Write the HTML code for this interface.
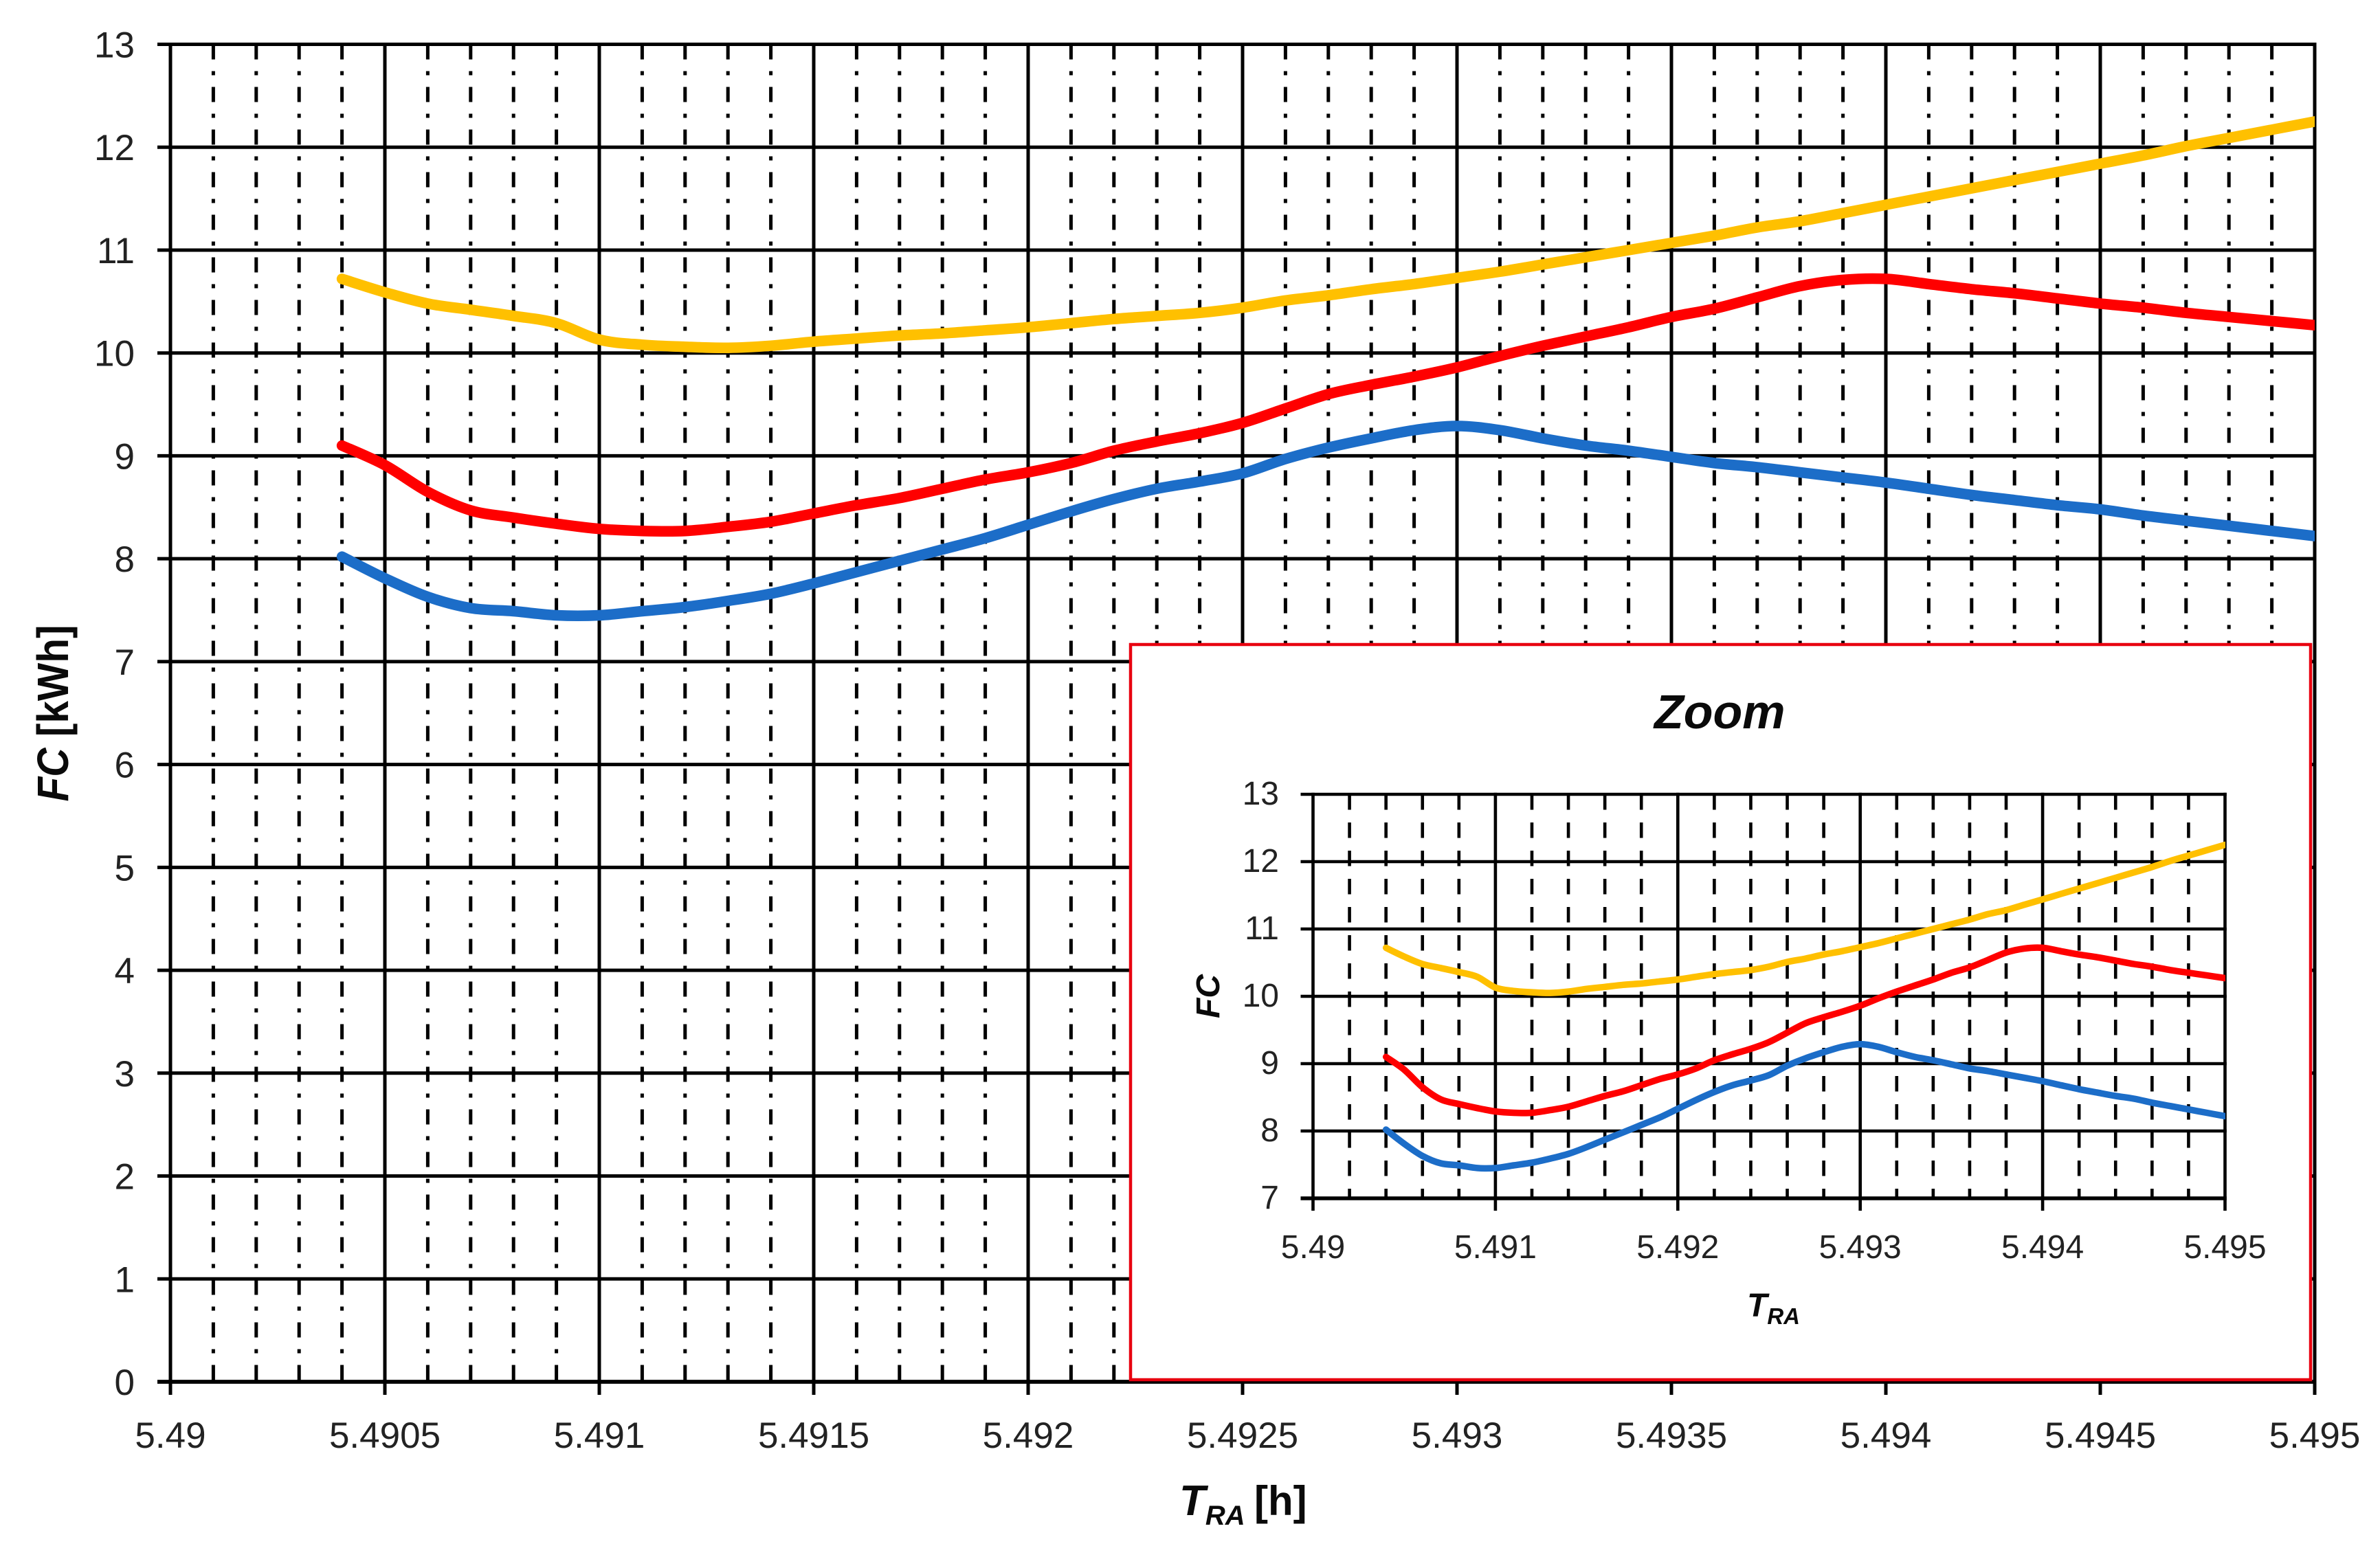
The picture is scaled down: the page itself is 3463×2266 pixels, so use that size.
<!DOCTYPE html>
<html lang="en">
<head>
<meta charset="utf-8">
<title>FC vs TRA chart with zoom inset</title>
<style>
  html, body { margin: 0; padding: 0; background: #ffffff; }
  svg { display: block; }
  text { font-family: "Liberation Sans", sans-serif; fill: #222222; }
  .axis-title { font-weight: bold; fill: #0a0a0a; }
</style>
</head>
<body>
<svg id="chart" xmlns="http://www.w3.org/2000/svg" width="3463" height="2266" viewBox="0 0 3463 2266">
  <defs>
    <clipPath id="main-clip"><rect x="200" y="0" width="3168" height="2266"/></clipPath>
    <clipPath id="inset-clip"><rect x="1880" y="1100" width="1358" height="700"/></clipPath>
  </defs>
  <rect x="0" y="0" width="3463" height="2266" fill="#ffffff"/>
  <g id="main-grid"></g>
  <g id="main-labels"></g>
  <g id="main-series" clip-path="url(#main-clip)"></g>
  <text class="axis-title" transform="translate(99 1038) rotate(-90)" text-anchor="middle" font-size="64" textLength="257" lengthAdjust="spacingAndGlyphs"><tspan font-style="italic">FC</tspan> [kWh]</text>
  <text class="axis-title" x="1716" y="2205" font-size="62"><tspan font-style="italic">T</tspan><tspan font-style="italic" font-size="40" dy="14">RA</tspan><tspan x="1825" dy="-14" font-size="60">[h]</tspan></text>

  <rect x="1645" y="938" width="1717" height="1070" fill="#ffffff" stroke="#e8000f" stroke-width="4.5"/>
  <text class="axis-title" x="2407" y="1060" font-size="70" font-style="italic">Zoom</text>
  <g id="inset-grid"></g>
  <g id="inset-labels"></g>
  <g id="inset-series" clip-path="url(#inset-clip)"></g>
  <text class="axis-title" transform="translate(1774 1450) rotate(-90)" text-anchor="middle" font-size="48" font-style="italic">FC</text>
  <text class="axis-title" x="2542" y="1916" font-size="48" font-style="italic">T<tspan font-size="33" dy="11">RA</tspan></text>
</svg>
<script>
const trValues = [
  5.4904, 5.4905, 5.4906, 5.4907, 5.4908, 5.4909,
  5.4910, 5.4911, 5.4912, 5.4913, 5.4914, 5.4915, 5.4916, 5.4917, 5.4918, 5.4919,
  5.4920, 5.4921, 5.4922, 5.4923, 5.4924, 5.4925, 5.4926, 5.4927, 5.4928, 5.4929,
  5.4930, 5.4931, 5.4932, 5.4933, 5.4934, 5.4935, 5.4936, 5.4937, 5.4938, 5.4939,
  5.4940, 5.4941, 5.4942, 5.4943, 5.4944, 5.4945, 5.4946, 5.4947, 5.4948, 5.4949,
  5.4950
];
const yellowSeries = [
  10.72, 10.59, 10.48, 10.42, 10.36, 10.29,
  10.13, 10.08, 10.06, 10.05, 10.07, 10.11, 10.14, 10.17, 10.19, 10.22,
  10.25, 10.29, 10.33, 10.36, 10.39, 10.44, 10.51, 10.56, 10.62, 10.67,
  10.73, 10.79, 10.86, 10.93, 11.00, 11.07, 11.14, 11.22, 11.28, 11.36,
  11.44, 11.52, 11.60, 11.68, 11.76, 11.84, 11.92, 12.01, 12.09, 12.17,
  12.25
];
const redSeries = [
  9.10, 8.91, 8.65, 8.47, 8.40, 8.34,
  8.29, 8.27, 8.27, 8.31, 8.36, 8.44, 8.52, 8.59, 8.68, 8.77,
  8.84, 8.93, 9.05, 9.14, 9.22, 9.32, 9.46, 9.60, 9.69, 9.77,
  9.86, 9.97, 10.07, 10.16, 10.25, 10.35, 10.43, 10.54, 10.65, 10.71,
  10.72, 10.67, 10.62, 10.58, 10.53, 10.48, 10.44, 10.39, 10.35, 10.31,
  10.27
];
const blueSeries = [
  8.02, 7.81, 7.63, 7.52, 7.49, 7.45,
  7.45, 7.49, 7.53, 7.59, 7.66, 7.76, 7.87, 7.98, 8.09, 8.20,
  8.33, 8.46, 8.58, 8.68, 8.75, 8.83, 8.97, 9.08, 9.17, 9.25,
  9.29, 9.25, 9.17, 9.10, 9.05, 8.99, 8.93, 8.89, 8.84, 8.79,
  8.74, 8.68, 8.62, 8.57, 8.52, 8.48, 8.42, 8.37, 8.32, 8.27,
  8.22
];
const mainXTickLabels = ['5.49', '5.4905', '5.491', '5.4915', '5.492', '5.4925', '5.493', '5.4935', '5.494', '5.4945', '5.495'];
const mainYTickLabels = ['0', '1', '2', '3', '4', '5', '6', '7', '8', '9', '10', '11', '12', '13'];
const insetXTickLabels = ['5.49', '5.491', '5.492', '5.493', '5.494', '5.495'];
const insetYTickLabels = ['7', '8', '9', '10', '11', '12', '13'];

const SVG_NS = 'http://www.w3.org/2000/svg';

function make(tag, attrs, parent) {
  const el = document.createElementNS(SVG_NS, tag);
  for (const k in attrs) el.setAttribute(k, attrs[k]);
  parent.appendChild(el);
  return el;
}
function linearScale(d0, d1, r0, r1) {
  return function (v) { return r0 + (v - d0) * (r1 - r0) / (d1 - d0); };
}
function smoothPath(points) {
  let d = 'M' + points[0][0].toFixed(1) + ' ' + points[0][1].toFixed(1);
  for (let i = 0; i < points.length - 1; i++) {
    const p0 = points[Math.max(i - 1, 0)];
    const p1 = points[i];
    const p2 = points[i + 1];
    const p3 = points[Math.min(i + 2, points.length - 1)];
    const c1x = p1[0] + (p2[0] - p0[0]) / 6;
    const c1y = p1[1] + (p2[1] - p0[1]) / 6;
    const c2x = p2[0] - (p3[0] - p1[0]) / 6;
    const c2y = p2[1] - (p3[1] - p1[1]) / 6;
    d += 'C' + c1x.toFixed(1) + ' ' + c1y.toFixed(1) + ' ' + c2x.toFixed(1) + ' ' + c2y.toFixed(1) + ' ' + p2[0].toFixed(1) + ' ' + p2[1].toFixed(1);
  }
  return d;
}

function drawChart(cfg) {
  const xVals = cfg.xLabels.map(Number);
  const yVals = cfg.yLabels.map(Number);
  const xMin = xVals[0], xMax = xVals[xVals.length - 1];
  const yMin = yVals[0], yMax = yVals[yVals.length - 1];
  const sx = linearScale(xMin, xMax, cfg.left, cfg.right);
  const sy = linearScale(yMin, yMax, cfg.bottom, cfg.top);
  const gridG = document.getElementById(cfg.prefix + '-grid');
  const labelG = document.getElementById(cfg.prefix + '-labels');
  const seriesG = document.getElementById(cfg.prefix + '-series');

  // minor vertical gridlines
  const nMinor = Math.round((xMax - xMin) / cfg.minorStep);
  for (let i = 1; i < nMinor; i++) {
    if (i % cfg.minorPerMajor === 0) continue;
    const x = sx(xMin + i * cfg.minorStep);
    const minor = make('line', { x1: x, x2: x, y1: cfg.top, y2: cfg.bottom, stroke: '#000000', 'stroke-width': cfg.minorWidth, 'stroke-dasharray': cfg.dash }, gridG);
    
    
  }
  // major vertical gridlines with ticks and labels
  xVals.forEach(function (v, i) {
    const x = sx(v);
    const line = make('line', { x1: x, x2: x, y1: cfg.top - cfg.lineWidth / 2, y2: cfg.bottom + cfg.tick, stroke: '#000000', 'stroke-width': cfg.lineWidth }, gridG);
    
    
    const label = make('text', { x: x, y: cfg.xLabelY, 'text-anchor': 'middle', 'font-size': cfg.fontSize }, labelG);
    label.textContent = cfg.xLabels[i];
    
    
  });
  // horizontal gridlines with ticks and labels
  yVals.forEach(function (v, i) {
    const y = sy(v);
    const line = make('line', { x1: cfg.left - cfg.tick, x2: cfg.right + cfg.lineWidth / 2, y1: y, y2: y, stroke: '#000000', 'stroke-width': i === 0 ? cfg.lineWidth + 0.8 : cfg.lineWidth }, gridG);
    
    
    const label = make('text', { x: cfg.yLabelX, y: y + cfg.yLabelDy, 'text-anchor': 'end', 'font-size': cfg.fontSize }, labelG);
    label.textContent = cfg.yLabels[i];
    
    
  });

  // series curves
  const yellowPts = trValues.map(function (t, i) { return [sx(t), sy(yellowSeries[i])]; });
  const yellowLine = make('path', { d: smoothPath(yellowPts), fill: 'none', stroke: '#FFC000', 'stroke-width': cfg.seriesWidth, 'stroke-linecap': 'round', 'stroke-linejoin': 'round' }, seriesG);
  
  

  const redPts = trValues.map(function (t, i) { return [sx(t), sy(redSeries[i])]; });
  const redLine = make('path', { d: smoothPath(redPts), fill: 'none', stroke: '#FF0000', 'stroke-width': cfg.seriesWidth, 'stroke-linecap': 'round', 'stroke-linejoin': 'round' }, seriesG);
  
  

  const bluePts = trValues.map(function (t, i) { return [sx(t), sy(blueSeries[i])]; });
  const blueLine = make('path', { d: smoothPath(bluePts), fill: 'none', stroke: '#1C6DC8', 'stroke-width': cfg.seriesWidth, 'stroke-linecap': 'round', 'stroke-linejoin': 'round' }, seriesG);
  
  
}

drawChart({
  prefix: 'main', xLabels: mainXTickLabels, yLabels: mainYTickLabels,
  left: 248, right: 3368, top: 64.5, bottom: 2011,
  minorStep: 0.0001, minorPerMajor: 5, dash: '22 17 6 17',
  tick: 19, lineWidth: 5, minorWidth: 5, seriesWidth: 15.5,
  fontSize: 53, xLabelY: 2107, yLabelX: 196, yLabelDy: 19
});
drawChart({
  prefix: 'inset', xLabels: insetXTickLabels, yLabels: insetYTickLabels,
  left: 1910.5, right: 3237.5, top: 1156, bottom: 1744,
  minorStep: 0.0002, minorPerMajor: 5, dash: '22.5 18.5',
  tick: 18, lineWidth: 4.6, minorWidth: 4.6, seriesWidth: 9.5,
  fontSize: 48, xLabelY: 1831, yLabelX: 1861, yLabelDy: 15
});
</script>
</body>
</html>
